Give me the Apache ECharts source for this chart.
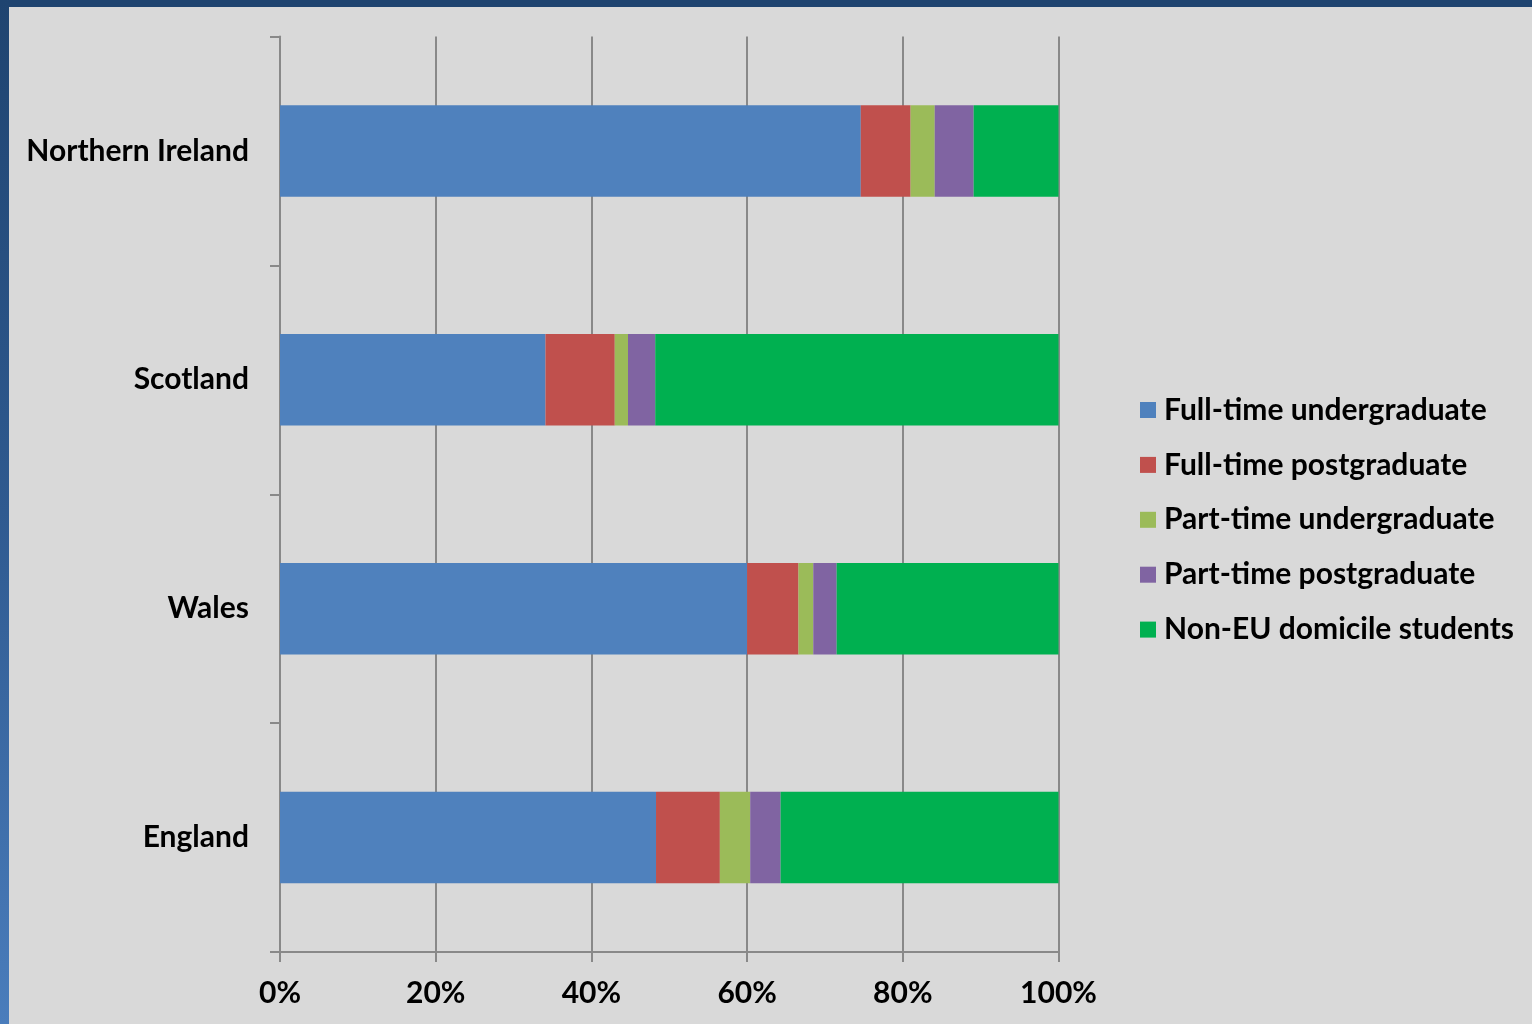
<!DOCTYPE html>
<html>
<head>
<meta charset="utf-8">
<script src="https://cdn.jsdelivr.net/npm/echarts@6/dist/echarts.min.js"></script>
<style>
html,body{margin:0;padding:0;width:1532px;height:1024px;overflow:hidden;}
body{background:#1f4470;}
#leftband{position:absolute;left:0;top:0;width:9px;height:1024px;background:linear-gradient(to bottom,#1f4470 0%,#2f5a90 50%,#4a7dbc 100%);}
#chart{position:absolute;left:9px;top:7px;width:1523px;height:1017px;background:#d9d9d9;}
</style>
</head>
<body>
<div id="leftband"></div>
<div id="chart"></div>
<script>
const categories = ['England', 'Wales', 'Scotland', 'Northern Ireland'];
const seriesNames = ['Full-time undergraduate', 'Full-time postgraduate', 'Part-time undergraduate', 'Part-time postgraduate', 'Non-EU domicile students'];
const fullTimeUndergraduate = [48.3, 60.0, 34.1, 74.6];
const fullTimePostgraduate = [8.2, 6.6, 8.9, 6.4];
const partTimeUndergraduate = [3.9, 1.9, 1.7, 3.1];
const partTimePostgraduate = [3.9, 3.0, 3.5, 5.0];
const nonEUDomicile = [35.7, 28.5, 51.8, 10.9];
const xTicks = [0, 20, 40, 60, 80, 100];

const seriesData = [fullTimeUndergraduate, fullTimePostgraduate, partTimeUndergraduate, partTimePostgraduate, nonEUDomicile];
const colors = ['#4f81bd', '#c0504d', '#9bbb59', '#8064a2', '#00b050'];
const fontFamily = 'Lato, "Open Sans", sans-serif';

const chart = echarts.init(document.getElementById('chart'), null, {renderer: 'canvas'});
chart.setOption({
  animation: false,
  color: colors,
  grid: {left: 271, right: 473.5, top: 29.5, bottom: 72, containLabel: false},
  legend: {
    orient: 'vertical',
    left: 1126,
    top: 381,
    icon: 'rect',
    itemWidth: 16,
    itemHeight: 16,
    itemGap: 20.9,
    data: seriesNames,
    textStyle: {fontFamily: fontFamily, fontWeight: 'bold', fontSize: 30, color: '#000', lineHeight: 34, padding: [0, 0, 0, 3]}
  },
  xAxis: {
    type: 'value',
    min: xTicks[0],
    max: xTicks[xTicks.length - 1],
    interval: 20,
    axisLine: {show: true, lineStyle: {color: '#898989', width: 2}},
    axisTick: {show: true, length: 10, lineStyle: {color: '#898989', width: 2}},
    splitLine: {show: true, lineStyle: {color: '#898989', width: 2}},
    axisLabel: {formatter: '{value}%', margin: 26, fontFamily: fontFamily, fontWeight: 'bold', fontSize: 30, color: '#000'}
  },
  yAxis: {
    type: 'category',
    data: categories,
    axisLine: {show: true, lineStyle: {color: '#898989', width: 2}},
    axisTick: {show: true, length: 10, alignWithLabel: false, lineStyle: {color: '#898989', width: 2}},
    splitLine: {show: false},
    axisLabel: {margin: 31, fontFamily: fontFamily, fontWeight: 'bold', fontSize: 30, color: '#000'}
  },
  series: seriesNames.map((name, i) => ({
    name: name,
    type: 'bar',
    stack: 'total',
    barCategoryGap: '60%',
    data: seriesData[i],
    itemStyle: {color: colors[i]}
  }))
});
</script>
</body>
</html>
